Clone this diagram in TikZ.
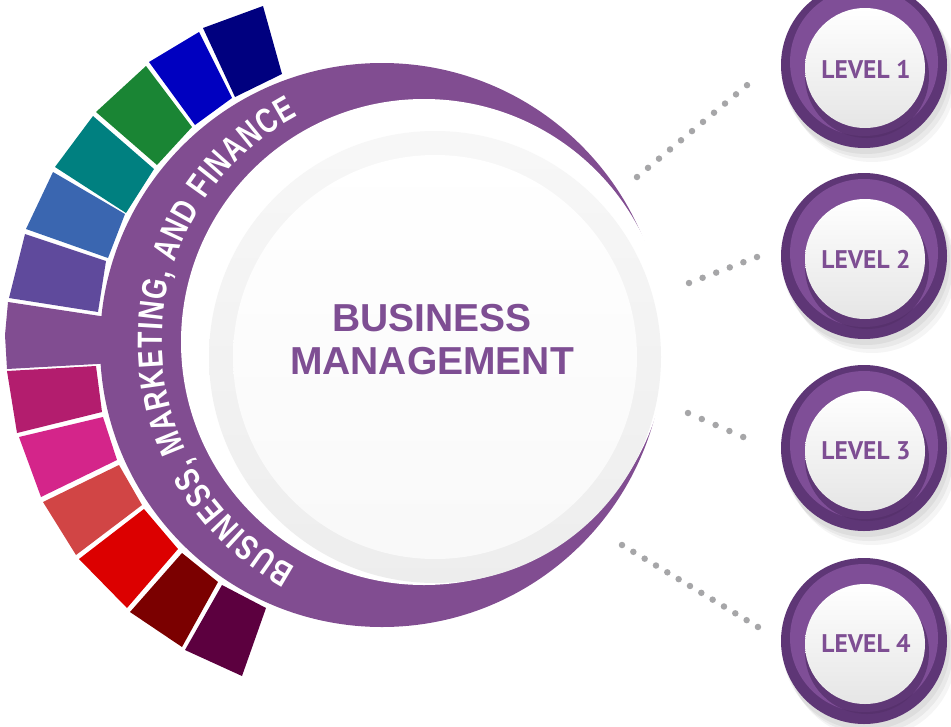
\documentclass[tikz,border=0pt]{standalone}
\usepackage{fontspec}
\setmainfont{Liberation Sans}
\newfontfamily\ptsans{PT Sans}
\newfontfamily\arcfont[FakeStretch=0.76]{Liberation Sans}
\usetikzlibrary{decorations.text}
\definecolor{ringpurple}{HTML}{814D91}
\definecolor{textpurple}{HTML}{7E4E93}
\definecolor{lvdark}{HTML}{5E3676}
\definecolor{lvmid}{HTML}{7F4E97}
\definecolor{lvshade}{HTML}{55306B}
\definecolor{dotgrey}{HTML}{A6A6A8}
\definecolor{cnavy}{HTML}{00007F}
\definecolor{cblue}{HTML}{0000C0}
\definecolor{cgreen}{HTML}{1A8534}
\definecolor{cteal}{HTML}{008080}
\definecolor{cblue2}{HTML}{3A66B0}
\definecolor{cviolet}{HTML}{5F4A9C}
\definecolor{ccrimson}{HTML}{B31D6E}
\definecolor{cpink}{HTML}{D4258A}
\definecolor{ccoral}{HTML}{D14545}
\definecolor{cred}{HTML}{DC0000}
\definecolor{cdarkred}{HTML}{7B0000}
\definecolor{cplum}{HTML}{5C003F}
\begin{document}
\begin{tikzpicture}[x=1pt,y=-1pt,
  dotline/.style={dotgrey, line width=6.5pt, line cap=round},
  lvtext/.style={text=textpurple, font=\ptsans\bfseries\fontsize{25.5}{26}\selectfont, inner sep=0pt},
  maintext/.style={text=textpurple, align=center, font=\bfseries\fontsize{39}{43}\selectfont, inner sep=0pt}]
\useasboundingbox (0,0) rectangle (951,726);
% coloured segments
\fill[cnavy] (203,28)--(263,6)--(282,74)--(235,97)--cycle;
\fill[cblue] (149,62)--(199,32)--(232,98)--(195,125)--cycle;
\fill[cgreen] (96,112)--(146,66)--(192,127)--(157,165)--cycle;
\fill[cteal] (55,167)--(93,116)--(154,169)--(126,213)--cycle;
\fill[cblue2] (26,229)--(53,172)--(125,214)--(108,258)--cycle;
\fill[cviolet] (9,298)--(25,234)--(106,261)--(98,312)--cycle;
\fill[ringpurple] (8,302)--(100,316)--(125,316)--(125,362)--(97,364)--(7,369)--(5,335)--cycle;
\fill[ccrimson] (7,371)--(96,366)--(102,412)--(17,433)--cycle;
\fill[cpink] (19,437)--(103,417)--(117,460)--(41,497)--cycle;
\fill[ccoral] (43,502)--(119,465)--(142,505)--(76,555)--cycle;
\fill[cred] (79,559)--(144,509)--(178,549)--(127,608)--cycle;
\fill[cdarkred] (130,612)--(182,553)--(218,582)--(182,647)--cycle;
\fill[cplum] (185,650)--(222,585)--(266,608)--(242,676)--cycle;
% purple crescent
\fill[ringpurple] (382,345) circle (282);
\fill[white] (424,342) circle (243);
\shade[top color=white!97!black, bottom color=white!93!black] (435,357) circle (226);
\shade[top color=white, bottom color=white!97.5!black] (435,357) circle (202);
% arc text
\path[decorate, decoration={text along path, text align=fit to path,
  text={|\arcfont\bfseries\fontsize{35}{35}\selectfont\color{white}|BUSINESS, MARKETING, AND FINANCE}}]
  (418,342) ++(118.5:256) arc[start angle=118.5, end angle=242, radius=256];
% central title
\node[maintext] (BM) at (432,340) {BUSINESS\\MANAGEMENT};
% level buttons
\foreach \cy [count=\i] in {65,256,448,641} {
  \fill[black, opacity=0.05] (866,\cy+5) circle (84);
  \fill[black, opacity=0.05] (869,\cy+9) circle (84);
  \fill[black, opacity=0.04] (872,\cy+13) circle (84);
  \fill[lvdark] (864,\cy) circle (83);
  \fill[lvmid] (864,\cy-3) circle (74);
  \fill[lvshade, opacity=0.75] (867,\cy+11) circle (62);
  \shade[top color=white, bottom color=white!90!black] (865,\cy+3) circle (60);
}
\node[lvtext] (L1) at (866,69) {LEVEL 1};
\node[lvtext] (L2) at (866,259) {LEVEL 2};
\node[lvtext] (L3) at (866,451) {LEVEL 3};
\node[lvtext] (L4) at (866,644) {LEVEL 4};
% dotted connectors
\coordinate (d1a) at (637,177); \coordinate (d1b) at (758,76);
\coordinate (d2a) at (689,283); \coordinate (d2b) at (757,257);
\coordinate (d3a) at (688,413); \coordinate (d3b) at (757,443);
\coordinate (d4a) at (622,545); \coordinate (d4b) at (758,627);
\draw[dotline, dash pattern=on 0pt off 14.33pt] (d1a) -- (d1b);
\draw[dotline, dash pattern=on 0pt off 14.56pt] (d2a) -- (d2b);
\draw[dotline, dash pattern=on 0pt off 15.05pt] (d3a) -- (d3b);
\draw[dotline, dash pattern=on 0pt off 13.23pt] (d4a) -- (d4b);
\end{tikzpicture}
\end{document}
